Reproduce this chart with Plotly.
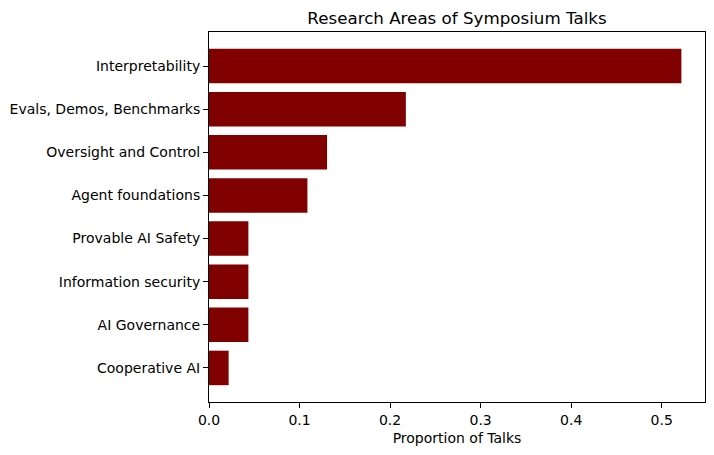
import plotly.graph_objects as go

# Research areas, listed bottom to top as drawn
areas = [
    "Cooperative AI",
    "AI Governance",
    "Information security",
    "Provable AI Safety",
    "Agent foundations",
    "Oversight and Control",
    "Evals, Demos, Benchmarks",
    "Interpretability",
]
proportions = [0.0217, 0.0435, 0.0435, 0.0435, 0.1087, 0.1304, 0.2174, 0.5217]
x_ticks = [0.0, 0.1, 0.2, 0.3, 0.4, 0.5]

fig = go.Figure()
fig.add_trace(
    go.Bar(
        x=proportions,
        y=areas,
        orientation="h",
        marker=dict(color="#800000", line=dict(width=0)),
        width=0.8,
    )
)

axis_style = dict(
    showline=True,
    linecolor="black",
    linewidth=1,
    mirror=True,
    ticks="outside",
    ticklen=5,
    tickcolor="black",
    showgrid=False,
    zeroline=False,
    automargin=False,
    tickfont=dict(size=14, color="black"),
)

fig.update_layout(
    width=714,
    height=455,
    margin=dict(l=209, r=9, t=32, b=53),
    plot_bgcolor="white",
    paper_bgcolor="white",
    font=dict(family="DejaVu Sans", color="black"),
    title=dict(
        text="Research Areas of Symposium Talks",
        x=(209 + 705) / 2 / 714,
        xanchor="center",
        y=1 - 18 / 455,
        yanchor="middle",
        font=dict(size=16.7, color="black"),
    ),
    showlegend=False,
)
fig.update_xaxes(
    range=[0, max(proportions) * 1.05],
    tickvals=x_ticks,
    ticktext=[f"{v:.1f}" for v in x_ticks],
    title=dict(text="Proportion of Talks", font=dict(size=14), standoff=6),
    **axis_style,
)
fig.update_yaxes(
    range=[-0.79, len(areas) - 1 + 0.79],
    categoryorder="array",
    categoryarray=areas,
    **axis_style,
)

# drop the default page margin so the figure sits at the window's corner
fig.write_html(
    "out.html",
    config={"displayModeBar": False},
    post_script="document.body.style.margin='0';",
)
